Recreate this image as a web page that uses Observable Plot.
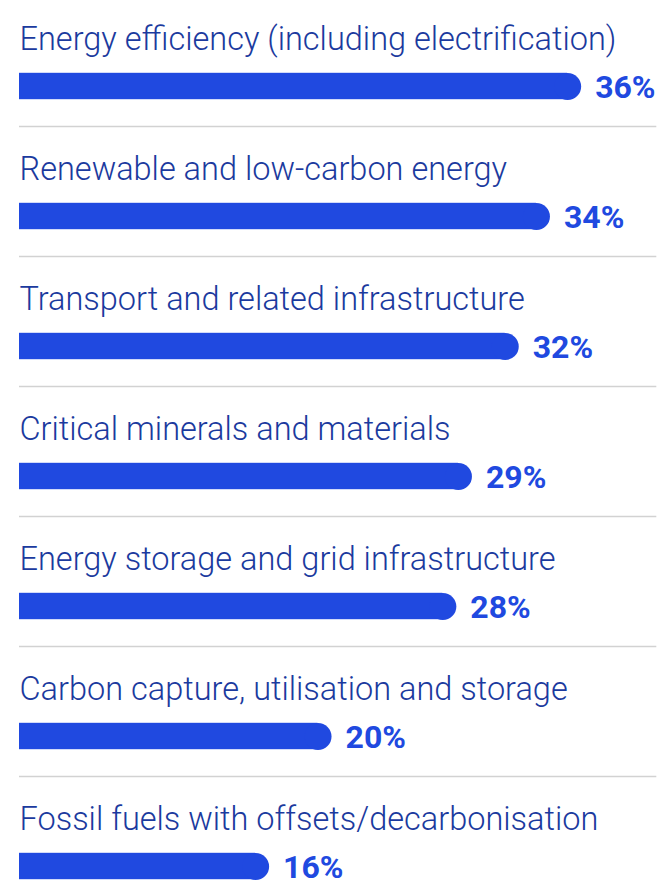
<!DOCTYPE html>
<html>
<head>
<meta charset="utf-8">
<script src="https://cdn.jsdelivr.net/npm/d3@7"></script>
<script src="https://cdn.jsdelivr.net/npm/@observablehq/plot@0.6"></script>
<style>
  html, body { margin: 0; padding: 0; background: #ffffff; }
  #chart svg { display: block; }
</style>
</head>
<body>
<div id="chart"></div>
<script>
const categories = [
  "Energy efficiency (including electrification)",
  "Renewable and low-carbon energy",
  "Transport and related infrastructure",
  "Critical minerals and materials",
  "Energy storage and grid infrastructure",
  "Carbon capture, utilisation and storage",
  "Fossil fuels with offsets/decarbonisation"
];
const values = [36, 34, 32, 29, 28, 20, 16];
const valueLabels = ["36%", "34%", "32%", "29%", "28%", "20%", "16%"];

const data = categories.map((c, i) => ({category: c, value: values[i], label: valueLabels[i], last: i === categories.length - 1}));

const barColor = "#2049e0";
const labelColor = "#1b3a9e";
const barH = 27;
const step = 130.6;

const chart = Plot.plot({
  width: 661,
  height: 885,
  marginLeft: 19,
  marginRight: 0,
  marginTop: 0,
  marginBottom: 0,
  style: {background: "#ffffff", overflow: "visible"},
  x: {domain: [0, 41.15], axis: null},
  y: {type: "band", domain: categories, range: [19, 19 + 7 * step], padding: 0, axis: null},
  marks: [
    Plot.ruleY(data.filter(d => !d.last), {y: "category", x1: 0, x2: 40.85, dy: 40, stroke: "#d2d2d2", strokeWidth: 1.5}),
    Plot.barX(data, {y: "category", x1: 0, x2: "value", fill: barColor, insetTop: (step - barH) / 2, insetBottom: (step - barH) / 2, insetRight: barH / 2}),
    Plot.dot(data, {y: "category", x: "value", dx: -barH / 2, r: barH / 2, fill: barColor, stroke: null}),
    Plot.text(data, {y: "category", x: 0, text: "category", dy: -47, textAnchor: "start", fill: labelColor, fontSize: 32.5, fontWeight: 300, fontFamily: "Roboto, sans-serif"}),
    Plot.text(data, {y: "category", x: "value", text: "label", dx: 14, dy: 1, textAnchor: "start", fill: barColor, fontSize: 32, fontWeight: 700, fontFamily: "Roboto, sans-serif"})
  ]
});
document.getElementById("chart").appendChild(chart);
</script>
</body>
</html>
